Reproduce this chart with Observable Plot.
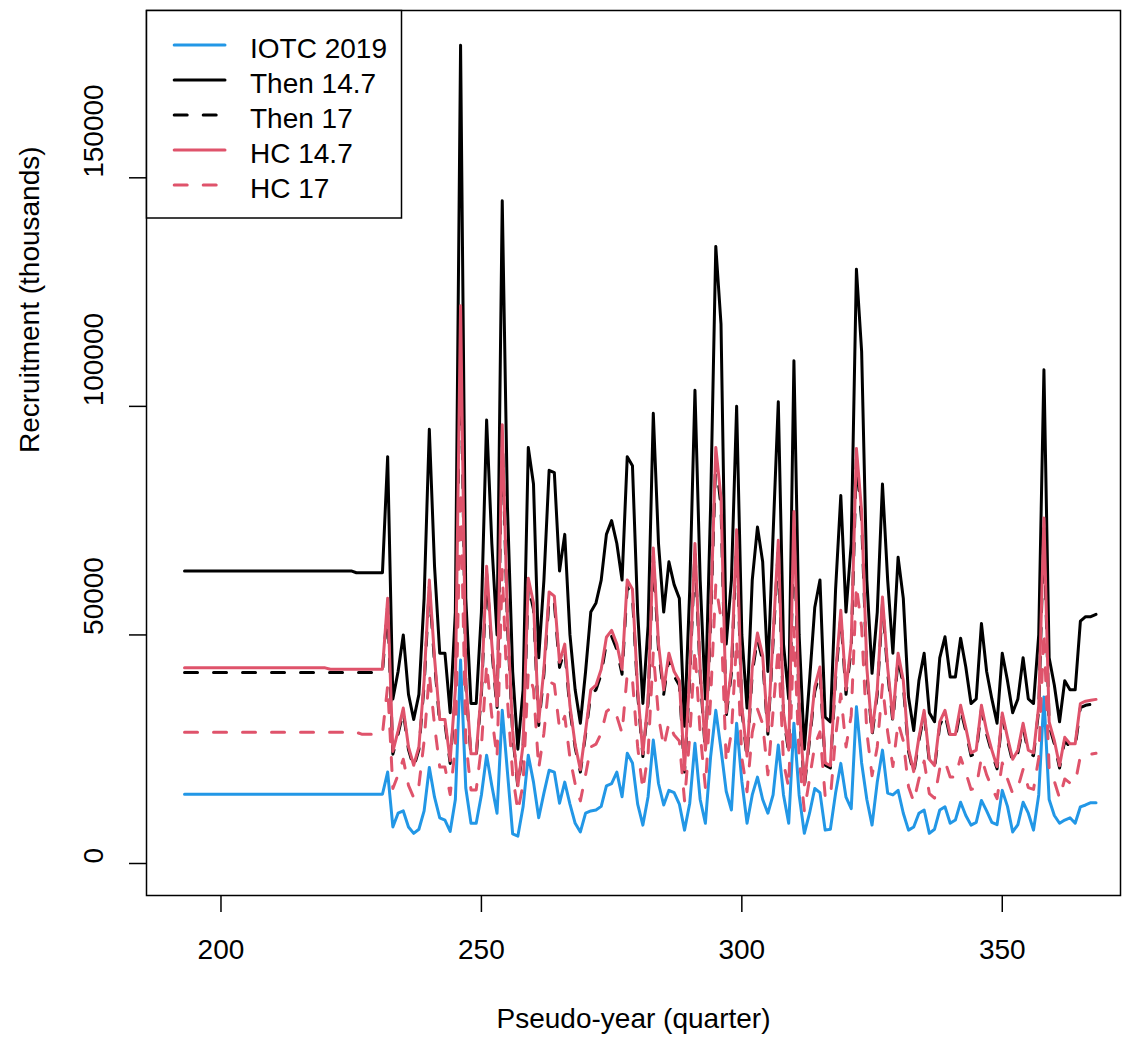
<!DOCTYPE html>
<html>
<head>
<meta charset="utf-8">
<script src="https://cdn.jsdelivr.net/npm/d3@7"></script>
<script src="https://cdn.jsdelivr.net/npm/@observablehq/plot@0.6"></script>
<style>
  html, body { margin: 0; padding: 0; background: #fff; }
  #chart svg { display: block; }
</style>
</head>
<body>
<div id="chart"></div>
<script>
// Pseudo-year (quarter) index, 193 … 368
const quarters = d3.range(193, 369);

const seriesNames = ["IOTC 2019", "Then 14.7", "Then 17", "HC 14.7", "HC 17"];
const seriesColors = ["#2297E6", "#000000", "#000000", "#DF536B", "#DF536B"];
const seriesDashed = [false, false, true, false, true];

const xTicks = [200, 250, 300, 350];
const yTicks = [0, 50000, 100000, 150000];

// Recruitment (thousands)
const iotc2019 = [
  15150, 15150, 15150, 15150, 15150, 15150, 15150, 15150, 15150, 15150,
  15150, 15150, 15150, 15150, 15150, 15150, 15150, 15150, 15150, 15150,
  15150, 15150, 15150, 15150, 15150, 15150, 15150, 15150, 15150, 15150,
  15150, 15150, 15150, 15150, 15150, 15150, 15150, 15150,
  15150, 20000, 8000, 11000, 11500, 8000, 6600, 7500, 11500, 21000,
  14500, 10000, 9500, 7000, 14000, 44500, 16500, 8800, 8800, 15000,
  23700, 17000, 11000, 33500, 20000, 6500, 6000, 12400, 23700, 17800,
  10000, 15400, 20400, 20000, 13200, 17800, 13000, 8800, 6900, 11000,
  11500, 11700, 12500, 17000, 17500, 20000, 14600, 24100, 22000, 13000,
  8400, 14600, 27000, 17500, 12800, 16000, 15500, 13000, 7300, 13200,
  26300, 14000, 8800, 23300, 33500, 25000, 15800, 11700, 30700, 18000,
  8800, 15000, 18900, 14000, 11000, 15000, 25900, 15000, 8800, 30700,
  15000, 6600, 11000, 16400, 15500, 7300, 7500, 15400, 21900, 14500,
  12000, 34300, 22000, 14000, 8400, 17800, 24800, 15400, 15000, 16000,
  11000, 7300, 8000, 11000, 11700, 6600, 7500, 11700, 12400, 8800,
  9500, 13400, 10500, 8400, 9000, 13800, 11500, 9000, 8500, 16000,
  12500, 6900, 8500, 13400, 11000, 7300, 15000, 36400, 14000, 10500,
  8800, 9500, 10000, 8800, 12400, 12800, 13300, 13300
];

const then147 = [
  64000, 64000, 64000, 64000, 64000, 64000, 64000, 64000, 64000, 64000,
  64000, 64000, 64000, 64000, 64000, 64000, 64000, 64000, 64000, 64000,
  64000, 64000, 64000, 64000, 64000, 64000, 64000, 64000, 64000, 64000,
  64000, 64000, 64000, 63600, 63600, 63600, 63600, 63600,
  63600, 89000, 36000, 42000, 50000, 37000, 31500, 37000, 58000, 95000,
  65000, 46000, 46000, 33000, 55000, 179000, 58000, 35000, 35000, 55000,
  97000, 70000, 50000, 145000, 78000, 42000, 25000, 38000, 91000, 83000,
  45000, 62000, 86000, 85500, 64000, 72000, 50000, 38000, 30700, 42000,
  55000, 57000, 62000, 72000, 75000, 70000, 62000, 89000, 87000, 55000,
  35000, 52000, 98500, 70000, 55000, 66000, 61000, 58000, 30000, 60000,
  103500, 62000, 36000, 78000, 135000, 118000, 48000, 62000, 100000, 50000,
  34000, 62000, 73600, 66000, 42000, 72000, 101000, 48000, 36000, 110000,
  50000, 25000, 40000, 56000, 62000, 32000, 31000, 60000, 80500, 55000,
  70000, 130000, 112000, 62000, 41600, 55000, 83000, 62000, 46000, 67000,
  58000, 36400, 29100, 40000, 46000, 33000, 31000, 45000, 49600, 40800,
  40800, 49300, 43000, 35000, 36000, 52500, 42000, 36000, 30700, 46000,
  40000, 33000, 36000, 45000, 36000, 35000, 50000, 108000, 45000, 39000,
  31000, 40000, 38000, 38000, 53000, 54000, 54000, 54500
];

const then17 = [
  41800, 41800, 41800, 41800, 41800, 41800, 41800, 41800, 41800, 41800,
  41800, 41800, 41800, 41800, 41800, 41800, 41800, 41800, 41800, 41800,
  41800, 41800, 41800, 41800, 41800, 41800, 41800, 41800, 41800, 41800,
  41800, 41800, 41800, 41800, 41800, 41800, 41800, 41800,
  41800, 56500, 23900, 28300, 33200, 24900, 21000, 24900, 39000, 60500,
  43900, 30700, 30700, 21900, 37000, 119000, 39000, 23400, 23400, 37000,
  63400, 46800, 33600, 93600, 52200, 28300, 16600, 25400, 60800, 55600,
  30200, 41400, 57900, 57000, 42900, 46800, 33600, 25400, 20000, 28300,
  37000, 38000, 41400, 48300, 49700, 46800, 41400, 60500, 58500, 37000,
  23400, 35100, 67300, 46800, 37000, 44900, 41000, 39000, 20000, 40500,
  68300, 41400, 24200, 52500, 88700, 78000, 32200, 41600, 71200, 33600,
  22900, 41700, 49100, 44400, 28300, 48500, 68900, 32200, 24200, 75100,
  33600, 16800, 26900, 37600, 41900, 21500, 20900, 40400, 54000, 37000,
  47100, 88500, 75000, 41700, 28000, 37000, 56800, 41700, 30900, 44900,
  39000, 24500, 19600, 26900, 32700, 22200, 20900, 30200, 32700, 27500,
  27500, 33700, 29000, 23600, 24200, 33700, 28300, 24200, 20700, 32100,
  26900, 22200, 24200, 29900, 24200, 23600, 33600, 73700, 30200, 26200,
  20900, 26900, 25500, 25500, 34100, 34600, 34800, 35000
];

const hc147 = [
  42800, 42800, 42800, 42800, 42800, 42800, 42800, 42800, 42800, 42800,
  42800, 42800, 42800, 42800, 42800, 42800, 42800, 42800, 42800, 42800,
  42800, 42800, 42800, 42800, 42800, 42800, 42800, 42800, 42500, 42500,
  42500, 42500, 42500, 42500, 42500, 42500, 42500, 42500,
  42500, 58000, 24500, 29000, 34000, 25500, 21500, 25500, 40000, 62000,
  45000, 31500, 31500, 22500, 38000, 122000, 40000, 24000, 24000, 38000,
  65000, 48000, 34500, 96000, 53500, 29000, 17000, 26000, 62400, 57000,
  31000, 42500, 59400, 58500, 44000, 48000, 34500, 26000, 20500, 29000,
  38000, 39000, 42500, 49500, 51000, 48000, 42500, 62000, 60000, 38000,
  24000, 36000, 69000, 48000, 38000, 46000, 42000, 40000, 20500, 41500,
  70000, 42500, 24800, 53800, 91000, 80000, 33000, 42700, 73000, 34500,
  23500, 42800, 50400, 45500, 29000, 49700, 70700, 33000, 24800, 77000,
  34500, 17200, 27600, 38600, 43000, 22000, 21400, 41400, 55400, 38000,
  48300, 90800, 77000, 42800, 28700, 38000, 58300, 42800, 31700, 46000,
  40000, 25100, 20100, 27600, 33500, 22800, 21400, 31000, 33500, 28200,
  28200, 34600, 29700, 24200, 24800, 34600, 29000, 24800, 21200, 32900,
  27600, 22800, 24800, 30700, 24800, 24200, 34500, 75600, 31000, 26900,
  21400, 27600, 26200, 26200, 35000, 35500, 35700, 35900
];

const hc17 = [
  28700, 28700, 28700, 28700, 28700, 28700, 28700, 28700, 28700, 28700,
  28700, 28700, 28700, 28700, 28700, 28700, 28700, 28700, 28700, 28700,
  28700, 28700, 28700, 28700, 28700, 28700, 28700, 28700, 28700, 28700,
  28700, 28700, 28700, 28700, 28300, 28300, 28300, 28300,
  28300, 38900, 16400, 19400, 22800, 17100, 14400, 17100, 26800, 41500,
  30200, 21100, 21100, 15100, 25500, 81700, 26800, 16100, 16100, 25500,
  43600, 32200, 23100, 64300, 35800, 19400, 11400, 17400, 41800, 38200,
  20800, 28500, 39800, 39200, 29500, 32200, 23100, 17400, 13700, 19400,
  25500, 26100, 28500, 33200, 34200, 32200, 28500, 41500, 40200, 25500,
  16100, 24100, 46200, 32200, 25500, 30800, 28100, 26800, 13700, 27800,
  46900, 28500, 16600, 36000, 61000, 53600, 22100, 28600, 48900, 23100,
  15700, 28700, 33800, 30500, 19400, 33300, 47400, 22100, 16600, 51600,
  23100, 11500, 18500, 25900, 28800, 14700, 14300, 27700, 37100, 25500,
  32400, 60800, 51600, 28700, 19200, 25500, 39100, 28700, 21200, 30800,
  26800, 16800, 13500, 18500, 22400, 15300, 14300, 20800, 22400, 18900,
  18900, 23200, 19900, 16200, 16600, 23200, 19400, 16600, 14200, 22000,
  18500, 15300, 16600, 20600, 16600, 16200, 23100, 50700, 20800, 18000,
  14300, 18500, 17600, 17600, 23500, 23800, 23900, 24100
];

const seriesValues = [iotc2019, then147, then17, hc147, hc17];

// Long table built from the arrays
const table = [];
seriesNames.forEach((name, s) => {
  seriesValues[s].forEach((v, i) => {
    if (i < quarters.length) table.push({ quarter: quarters[i], value: v, series: name });
  });
});

const FONT = "'Liberation Sans', Arial, Helvetica, sans-serif";
const DASH = "13,16";

const lineMarks = seriesNames.map((name, s) =>
  Plot.line(table.filter(d => d.series === name), {
    x: "quarter",
    y: "value",
    stroke: seriesColors[s],
    strokeWidth: 3,
    strokeDasharray: seriesDashed[s] ? DASH : null,
    strokeLinecap: "round",
    strokeLinejoin: "round"
  })
);

const svg = Plot.plot({
  width: 1129,
  height: 1039,
  marginLeft: 146,
  marginRight: 9,
  marginTop: 10,
  marginBottom: 144,
  x: { domain: [185.7, 372.7] },
  y: { domain: [-7000, 186600] },
  style: { fontFamily: FONT, fontSize: "28px", color: "#000", background: "#fff" },
  marks: [
    Plot.axisX({ ticks: xTicks, tickSize: 17, tickPadding: 27, tickFormat: d => String(d), label: null, fontSize: 28, strokeWidth: 1.5 }),
    Plot.axisY({ ticks: yTicks, tickSize: 17, tickFormat: () => "", label: null, strokeWidth: 1.5 }),
    Plot.text(yTicks, { y: d => d, text: d => String(d), frameAnchor: "left", dx: -52, rotate: -90, fontSize: 28, fill: "#000" }),
    Plot.text(["Recruitment (thousands)"], { text: d => d, frameAnchor: "left", dx: -116, rotate: -90, fontSize: 28, fill: "#000" }),
    Plot.text(["Pseudo-year (quarter)"], { text: d => d, frameAnchor: "bottom", dy: 113, lineAnchor: "top", fontSize: 28, fill: "#000" }),
    ...lineMarks,
    Plot.frame({ stroke: "#000", strokeWidth: 1.5 })
  ]
});

// Legend (top-left, inside the plotting box)
const lg = d3.select(svg).append("g")
  .attr("font-family", FONT)
  .attr("font-size", 28)
  .attr("text-anchor", "start");
lg.append("rect")
  .attr("x", 146.5).attr("y", 10.5).attr("width", 255).attr("height", 207.5)
  .attr("fill", "#fff").attr("stroke", "#000").attr("stroke-width", 1.5);
seriesNames.forEach((name, i) => {
  const cy = 45 + 35 * i;
  lg.append("line")
    .attr("x1", 174.2).attr("x2", 225).attr("y1", cy).attr("y2", cy)
    .attr("stroke", seriesColors[i]).attr("stroke-width", 3)
    .attr("stroke-linecap", "round")
    .attr("stroke-dasharray", seriesDashed[i] ? DASH : null);
  lg.append("text")
    .attr("x", 250).attr("y", cy + 12.5)
    .attr("text-anchor", "start")
    .attr("fill", "#000")
    .text(name);
});

document.getElementById("chart").appendChild(svg);
</script>
</body>
</html>
